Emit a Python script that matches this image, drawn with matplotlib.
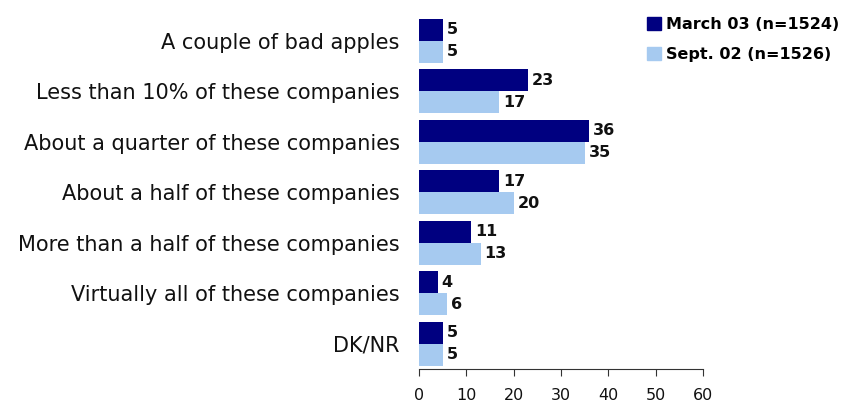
import matplotlib
matplotlib.use("Agg")
import matplotlib.pyplot as plt
from matplotlib.patches import Patch

categories = [
    "A couple of bad apples",
    "Less than 10% of these companies",
    "About a quarter of these companies",
    "About a half of these companies",
    "More than a half of these companies",
    "Virtually all of these companies",
    "DK/NR",
]
march03 = [5, 23, 36, 17, 11, 4, 5]
sept02 = [5, 17, 35, 20, 13, 6, 5]
series_names = ["March 03 (n=1524)", "Sept. 02 (n=1526)"]
xticks = [0, 10, 20, 30, 40, 50, 60]

dark = "#000080"
light = "#A6CAF0"

plt.rcParams["font.family"] = ["DejaVu Sans"]

fig = plt.figure(figsize=(8.43, 4.08), dpi=100)
ax = fig.add_axes([0.497, 0.0956, 0.337, 0.867])

h = 0.435
pos = list(range(len(categories)))
ax.barh([p - h / 2 for p in pos], march03, height=h, color=dark)
ax.barh([p + h / 2 for p in pos], sept02, height=h, color=light)

for p, a, b in zip(pos, march03, sept02):
    ax.text(a + 0.8, p - h / 2, str(a), va="center", ha="left",
            fontsize=11.5, fontweight="bold", color="#111111")
    ax.text(b + 0.8, p + h / 2, str(b), va="center", ha="left",
            fontsize=11.5, fontweight="bold", color="#111111")

ax.set_ylim(len(categories) - 0.5, -0.5)
ax.set_xlim(0, 60)
ax.set_yticks(pos)
ax.set_yticklabels(categories, fontsize=15, color="#111111")
ax.set_xticks(xticks)
ax.set_xticklabels([str(t) for t in xticks], fontsize=11.5, color="#111111")

for s in ["top", "right", "left"]:
    ax.spines[s].set_visible(False)
ax.spines["bottom"].set_color("#333333")
ax.tick_params(axis="y", length=0, pad=14)
ax.tick_params(axis="x", direction="out", length=5, color="#333333", pad=9)

handles = [Patch(color=dark), Patch(color=light)]
leg = fig.legend(handles, series_names, loc="upper left",
                 bbox_to_anchor=(0.760, 0.975), frameon=False,
                 handlelength=0.9, handleheight=0.9, handletextpad=0.3,
                 labelspacing=0.95, borderaxespad=0,
                 prop={"size": 11.5, "weight": "bold"})

fig.savefig("out.png", dpi=100)
